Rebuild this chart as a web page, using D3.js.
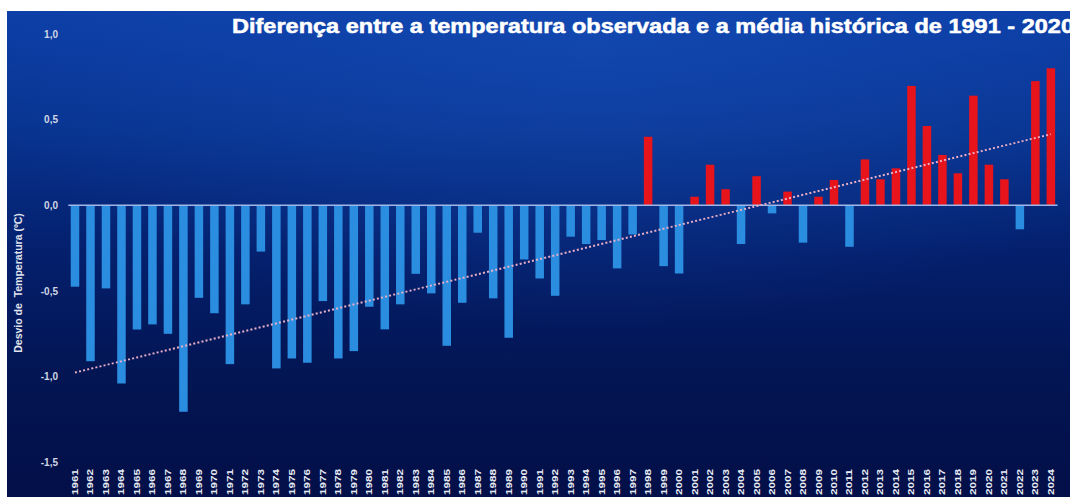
<!DOCTYPE html>
<html>
<head>
<meta charset="utf-8">
<script src="https://cdn.jsdelivr.net/npm/d3@7"></script>
<style>
  html, body { margin: 0; padding: 0; background: #ffffff; }
  svg { display: block; }
</style>
</head>
<body>
<svg id="chart" width="1070" height="497"></svg>
<script>
const years = [1961,1962,1963,1964,1965,1966,1967,1968,1969,1970,
  1971,1972,1973,1974,1975,1976,1977,1978,1979,1980,
  1981,1982,1983,1984,1985,1986,1987,1988,1989,1990,
  1991,1992,1993,1994,1995,1996,1997,1998,1999,2000,
  2001,2002,2003,2004,2005,2006,2007,2008,2009,2010,
  2011,2012,2013,2014,2015,2016,2017,2018,2019,2020,
  2021,2022,2023,2024];
const anomalies = [-0.475,-0.91,-0.485,-1.04,-0.725,-0.695,-0.75,-1.205,-0.54,-0.63,
  -0.927,-0.578,-0.27,-0.952,-0.894,-0.919,-0.559,-0.894,-0.851,-0.592,
  -0.724,-0.578,-0.40,-0.514,-0.82,-0.569,-0.16,-0.543,-0.773,-0.316,
  -0.427,-0.528,-0.183,-0.226,-0.203,-0.368,-0.17,0.40,-0.355,-0.398,
  0.05,0.237,0.094,-0.226,0.17,-0.047,0.08,-0.218,0.05,0.148,
  -0.242,0.268,0.152,0.216,0.697,0.463,0.294,0.187,0.64,0.237,
  0.152,-0.14,0.725,0.80];
const yTickValues = [1.0, 0.5, 0.0, -0.5, -1.0, -1.5];
const yTickLabels = ["1,0", "0,5", "0,0", "-0,5", "-1,0", "-1,5"];
const titleText = "Diferença entre a temperatura observada e a média histórica de 1991 - 2020";
const yAxisTitle = "Desvio de  Temperatura (ºC)";

const data = years.map((y, i) => ({ year: y, value: anomalies[i] }));

const svg = d3.select("#chart");
const W = 1070, H = 497;

// background gradient
const defs = svg.append("defs");
const grad = defs.append("linearGradient").attr("id", "bg").attr("x1", 0).attr("y1", 0).attr("x2", 0).attr("y2", 1);
[["0%", "#0c3ea6"], ["25%", "#08338f"], ["50%", "#041f6c"], ["75%", "#031553"], ["100%", "#030f48"]]
  .forEach(([o, c]) => grad.append("stop").attr("offset", o).attr("stop-color", c));
const rad = defs.append("radialGradient").attr("id", "glow").attr("cx", 0.55).attr("cy", 0.05).attr("r", 0.6);
rad.append("stop").attr("offset", "0%").attr("stop-color", "#1a55c0").attr("stop-opacity", 0.45);
rad.append("stop").attr("offset", "100%").attr("stop-color", "#1a55c0").attr("stop-opacity", 0);

svg.append("rect").attr("x", 7).attr("y", 11).attr("width", W - 7).attr("height", H - 11).attr("fill", "url(#bg)");
svg.append("rect").attr("x", 7).attr("y", 11).attr("width", W - 7).attr("height", H - 11).attr("fill", "url(#glow)");

const x = d3.scaleBand().domain(years).range([67.25, 1058.6]).paddingInner(0.45).paddingOuter(0.225);
const y = d3.scaleLinear().domain([-1.5, 1.0]).range([462.3, 34]);

// title
svg.append("text")
  .attr("x", 232).attr("y", 33)
  .attr("fill", "#ffffff")
  .attr("stroke", "#ffffff")
  .attr("stroke-width", 0.5)
  .attr("font-family", "Liberation Sans, Arial, sans-serif")
  .attr("font-weight", "bold")
  .attr("font-size", 20)
  .attr("textLength", 842)
  .attr("lengthAdjust", "spacingAndGlyphs")
  .text(titleText);

// y axis
const yAxis = d3.axisLeft(y).tickValues(yTickValues).tickSize(0).tickPadding(0)
  .tickFormat((d, i) => yTickLabels[i]);
const gy = svg.append("g").attr("transform", "translate(58,0)").call(yAxis);
gy.select(".domain").remove();
gy.selectAll("text")
  .attr("fill", "#d0d6e4")
  .attr("font-family", "Liberation Sans, Arial, sans-serif")
  .attr("font-weight", "bold")
  .attr("font-size", 10);

// y axis title
svg.append("text")
  .attr("transform", "translate(22,283) rotate(-90)")
  .attr("text-anchor", "middle")
  .attr("fill", "#e0e4ee")
  .attr("font-family", "Liberation Sans, Arial, sans-serif")
  .attr("font-weight", "bold")
  .attr("font-size", 10.5)
  .style("white-space", "pre")
  .text(yAxisTitle);

// bars
svg.append("g").selectAll("rect").data(data).join("rect")
  .attr("x", d => x(d.year))
  .attr("width", x.bandwidth())
  .attr("y", d => y(Math.max(0, d.value)))
  .attr("height", d => Math.abs(y(d.value) - y(0)))
  .attr("fill", d => d.value >= 0 ? "#e8141c" : "#2b8de0");

// zero line
svg.append("line")
  .attr("x1", x.range()[0] + 1).attr("x2", x.range()[1] - 1)
  .attr("y1", y(0)).attr("y2", y(0))
  .attr("stroke", "#9fb8e8").attr("stroke-width", 1.5);

// linear trend (least squares on the data)
const n = data.length;
const mx = d3.mean(data, d => d.year), my = d3.mean(data, d => d.value);
const slope = d3.sum(data, d => (d.year - mx) * (d.value - my)) / d3.sum(data, d => (d.year - mx) ** 2);
const icpt = my - slope * mx;
const trendPts = [years[0], years[n - 1]].map(yr => [x(yr) + x.bandwidth() / 2, y(icpt + slope * yr)]);
svg.append("path")
  .attr("d", d3.line()(trendPts))
  .attr("fill", "none")
  .attr("stroke", "#e8aec6")
  .attr("stroke-width", 2)
  .attr("stroke-dasharray", "2,2.2");

// x labels
svg.append("g").selectAll("text").data(years).join("text")
  .attr("transform", d => `translate(${x(d) + x.bandwidth() / 2 + 3},495) rotate(-90)`)
  .attr("fill", "#e8ecf4")
  .attr("font-family", "Liberation Sans, Arial, sans-serif")
  .attr("font-weight", "bold")
  .attr("font-size", 8.5)
  .attr("textLength", 26)
  .attr("lengthAdjust", "spacingAndGlyphs")
  .text(d => d);
</script>
</body>
</html>
